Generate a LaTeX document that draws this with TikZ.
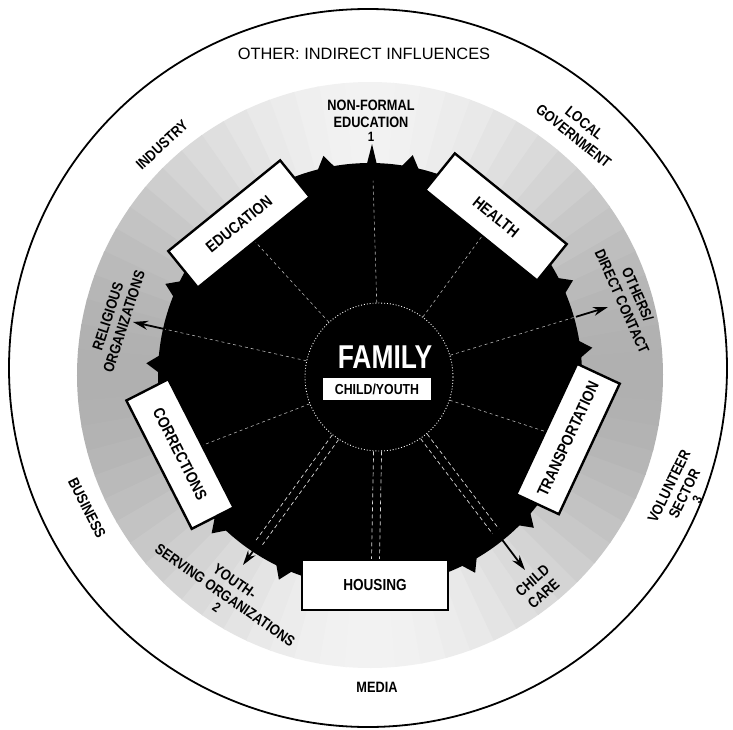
\documentclass[tikz,border=0pt]{standalone}
\usepackage{fontspec}
\setmainfont{Liberation Sans}
\newfontfamily\cond{Liberation Sans}[FakeStretch=0.85]
\newfontfamily\condf{Liberation Sans}[FakeStretch=0.8]
\usetikzlibrary{arrows.meta,calc}
\newcommand{\numlab}[1]{{\fontsize{13.5}{14}\selectfont #1}}
\begin{document}
\begin{tikzpicture}[x=1pt,y=1pt,
  box/.style={draw=black, fill=white, line width=2.4pt, minimum width=144pt, minimum height=47pt, inner sep=0pt, font=\cond\bfseries\fontsize{16}{18}\selectfont},
  lab/.style={font=\cond\bfseries\fontsize{15}{17}\selectfont, align=center, inner sep=0pt},
  conn/.style={draw=white!70!black, line width=0.6pt, dash pattern=on 3pt off 3pt},
  dconn/.style={draw=white!85!black, line width=0.7pt, dash pattern=on 4pt off 3pt},
  arr/.style={draw=black, line width=1.8pt, -{Stealth[length=15pt,width=9pt]}},
]
\useasboundingbox (-368,-364) rectangle (365,365);
\fill[white] (-368,-364) rectangle (365,365);
\coordinate (B) at (2,-10);
% stippled ring
\foreach \a in {0,5,...,355}{
  \pgfmathsetmacro\g{5+26*(cos(\a+2.5))^2}
  \fill[black!\g] ([shift={(\a:206pt)}]B) arc[start angle=\a, end angle=\a+5.4, radius=206pt]
     -- ([shift={(\a+5.4:293pt)}]B) arc[start angle=\a+5.4, end angle=\a, radius=293pt] -- cycle;
}
% outer circle
\draw[line width=1.8pt] (0,-3) circle[radius=359pt];
% black disk with teeth
\fill[black] (B) circle[radius=212pt];
\foreach \a in {102,79,25,7,-43,-62,225,246,156,177}{
  \fill[black] ([shift={(\a-3:208pt)}]B) -- ([shift={(\a:224pt)}]B) -- ([shift={(\a+3:208pt)}]B) -- cycle;
}
\fill[black] ([shift={(88:209pt)}]B) -- ([shift={(89.5:231pt)}]B) -- ([shift={(91:209pt)}]B) -- cycle;
% arrow tips
\coordinate (tO) at (240,58);
\coordinate (tC) at (157,-205);
\coordinate (tY) at (-125,-200);
\coordinate (tR) at (-235,43);
\coordinate (tN) at (4,219);
% centre
\node[circle, fill=black, draw=white, dotted, line width=0.9pt, minimum size=148pt, inner sep=0pt] (fam) at (11,-12) {};
% boxes
\node[box, rotate=39] (edu) at (-129,141) {EDUCATION};
\node[box, rotate=-39] (hea) at (128,148) {HEALTH};
\node[box, rotate=65] (tra) at (200,-74) {TRANSPORTATION};
\node[box, minimum width=146pt, minimum height=50pt] (hou) at (7,-220) {HOUSING};
\node[box, rotate=-63] (cor) at (-188,-89) {CORRECTIONS};
% connectors
\draw[conn] (fam) -- (edu);
\draw[conn] (fam) -- (hea);
\draw[conn] (fam) -- (tra);
\draw[conn] (fam) -- (cor);
\draw[dconn, transform canvas={shift={(-4pt,0pt)}}] (fam) -- (hou);
\draw[dconn, transform canvas={shift={(4pt,0pt)}}] (fam) -- (hou);
\draw[conn] (fam) -- ($(fam)!0.85!(tN)$);
\draw[conn] (fam) -- ($(fam)!0.86!(tO)$);
\draw[conn] (fam) -- ($(fam)!0.87!(tR)$);
\draw[dconn, transform canvas={shift={(3.2pt,-2.3pt)}}] (fam) -- ($(fam)!0.88!(tY)$);
\draw[dconn, transform canvas={shift={(-3.2pt,2.3pt)}}] (fam) -- ($(fam)!0.88!(tY)$);
\draw[dconn, transform canvas={shift={(3.2pt,2.4pt)}}] (fam) -- ($(fam)!0.8!(tC)$);
\draw[dconn, transform canvas={shift={(-3.2pt,-2.4pt)}}] (fam) -- ($(fam)!0.8!(tC)$);
\draw[arr] ($(fam)!0.86!(tO)$) -- (tO);
\draw[arr] ($(fam)!0.87!(tR)$) -- (tR);
\draw[arr] ($(fam)!0.88!(tY)$) -- (tY);
\draw[arr] ($(fam)!0.8!(tC)$) -- (tC);
% centre texts
\node[font=\condf\bfseries\fontsize{33}{36}\selectfont, text=white, inner sep=0pt] (famt) at (17,8) {FAMILY};
\node[fill=white, minimum width=108pt, minimum height=22pt, inner sep=0pt, font=\cond\bfseries\fontsize{14.5}{16}\selectfont] (cy) at (9,-24) {CHILD/YOUTH};
% labels
\node[font=\fontsize{16.4}{19}\selectfont, inner sep=0pt] (oth) at (-4,311.5) {OTHER: INDIRECT INFLUENCES};
\node[lab] (nfe) at (3,244) {NON-FORMAL\\EDUCATION\\[-3pt]\numlab{1}};
\node[lab, rotate=-39] (lg) at (211,235.5) {LOCAL\\GOVERNMENT};
\node[lab, rotate=43] (ind) at (-206,220) {INDUSTRY};
\node[lab, rotate=72] (rel) at (-252,46) {RELIGIOUS\\ORGANIZATIONS};
\node[lab, rotate=-66] (odc) at (262,67) {OTHERS/\\DIRECT CONTACT};
\node[lab, rotate=64] (vol) at (315,-128) {VOLUNTEER\\SECTOR\\[-3pt]\numlab{3}};
\node[lab, rotate=-63] (bus) at (-281,-143) {BUSINESS};
\node[lab, rotate=-35] (ysv) at (-142,-229) {YOUTH-\\SERVING ORGANIZATIONS\\[-3pt]\numlab{2}};
\node[lab] (med) at (9,-322) {MEDIA};
\node[lab, rotate=41] (cc) at (170,-222) {CHILD\\CARE};
\end{tikzpicture}
\end{document}
